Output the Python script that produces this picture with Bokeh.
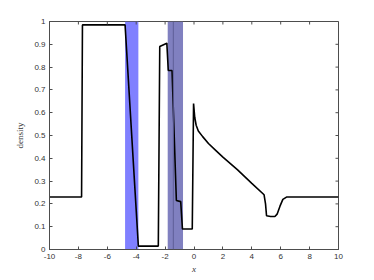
from bokeh.plotting import figure
from bokeh.models import Range1d, FixedTicker, Span
from bokeh.embed import file_html
from bokeh.resources import INLINE

# density profile
xs = [-10, -7.78, -7.72, -4.77, -3.85, -2.47, -2.37, -1.88, -1.78, -1.52, -1.22,
      -0.92, -0.80, -0.12, -0.03, 0.05, 0.15, 0.3, 0.6, 1.0, 1.5, 2.0, 3.0, 4.0,
      4.85, 4.95, 5.02, 5.3, 5.6, 5.75, 5.95, 6.15, 6.4, 10]
density = [0.23, 0.23, 0.985, 0.985, 0.015, 0.015, 0.89, 0.905, 0.785, 0.785, 0.215,
           0.21, 0.09, 0.09, 0.64, 0.58, 0.545, 0.52, 0.495, 0.465, 0.435, 0.405, 0.35, 0.29,
           0.24, 0.2, 0.148, 0.145, 0.145, 0.155, 0.19, 0.22, 0.23, 0.23]

# shaded bands
band_left = [-4.77, -1.82, -1.43]
band_right = [-3.85, -1.43, -0.76]
band_color = ["#8080ff", "#8080c0", "#8080c0"]
band_split = -1.43

x_ticks = [-10, -8, -6, -4, -2, 0, 2, 4, 6, 8, 10]
x_tick_labels = ["-10", "-8", "-6", "-4", "-2", "0", "2", "4", "6", "8", "10"]
y_ticks = [0, 0.1, 0.2, 0.3, 0.4, 0.5, 0.6, 0.7, 0.8, 0.9, 1]
y_tick_labels = ["0", "0.1", "0.2", "0.3", "0.4", "0.5", "0.6", "0.7", "0.8", "0.9", "1"]

FW, FH = 289, 228
p = figure(frame_width=FW, frame_height=FH, x_range=Range1d(-10, 10), y_range=Range1d(0, 1),
           output_backend="svg", toolbar_location=None,
           min_border_left=49, min_border_right=28, min_border_top=21, min_border_bottom=23)
p.xgrid.visible = False
p.ygrid.visible = False
p.background_fill_color = "white"
p.border_fill_color = "white"
p.outline_line_color = "#4d4d4d"
p.outline_line_width = 1

p.quad(left=band_left, right=band_right, bottom=0, top=1, fill_color=band_color,
       line_color=None, fill_alpha=1.0)
p.add_layout(Span(location=band_split, dimension="height", line_color="#5a5a96", line_width=1))

p.line(xs, density, line_color="black", line_width=1.6)

AX = "#4d4d4d"
FONT = "Liberation Sans"

def style(ax):
    ax.axis_line_color = AX
    ax.major_tick_line_color = AX
    ax.minor_tick_line_color = None
    ax.major_tick_in = 3
    ax.major_tick_out = 0
    ax.major_label_text_font = FONT
    ax.major_label_text_color = "#333333"
    ax.major_label_text_font_size = "8px"
    ax.major_label_standoff = 4

xa = p.xaxis[0]
xa.ticker = FixedTicker(ticks=x_ticks)
xa.major_label_overrides = dict(zip(x_ticks, x_tick_labels))
style(xa)
xa.axis_label = "x"
xa.axis_label_text_font = "Liberation Serif"
xa.axis_label_text_font_style = "italic"
xa.axis_label_text_font_size = "9px"
xa.axis_label_text_color = "#333333"
xa.axis_label_standoff = 2

ya = p.yaxis[0]
ya.ticker = FixedTicker(ticks=y_ticks)
ya.major_label_overrides = dict(zip(y_ticks, y_tick_labels))
style(ya)
ya.axis_label = "density"
ya.axis_label_text_font = "Liberation Serif"
ya.axis_label_text_font_style = "normal"
ya.axis_label_text_font_size = "9px"
ya.axis_label_text_color = "#333333"
ya.axis_label_standoff = 6

# mirrored tick marks on top and right edges (box on)
tick_dx = 3 * 20 / FW
tick_dy = 3 * 1 / FH
p.segment(x0=x_ticks, x1=x_ticks, y0=[1] * len(x_ticks), y1=[1 - tick_dy] * len(x_ticks),
          line_color=AX, line_width=1)
p.segment(x0=[10] * len(y_ticks), x1=[10 - tick_dx] * len(y_ticks), y0=y_ticks, y1=y_ticks,
          line_color=AX, line_width=1)

open("out.html", "w").write(file_html(p, INLINE))
